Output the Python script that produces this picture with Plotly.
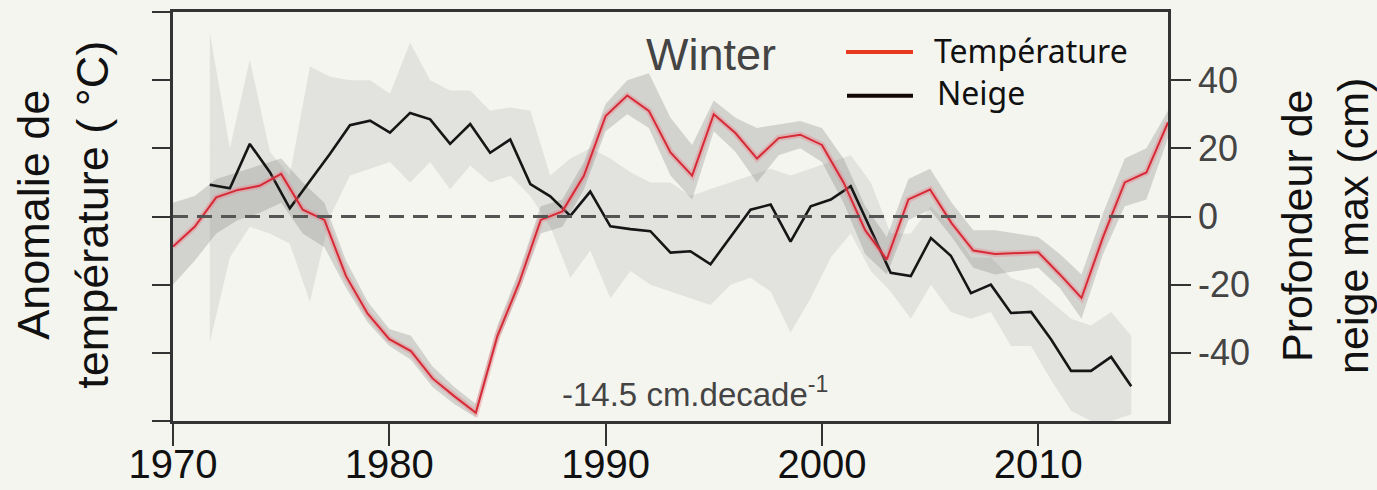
import plotly.graph_objects as go

# ---------------- data ----------------
temp_years = list(range(1970, 2017))
temp = [-8.8, -3.0, 5.6, 7.8, 9.0, 12.5, 2.0, -1.0, -17.5, -28.5,
        -36.0, -39.5, -47.5, -52.7, -57.6, -35.0, -19.5, -1.0, 1.5, 12.0,
        29.5, 35.5, 31.0, 18.8, 12.0, 30.0, 24.5, 17.0, 23.0, 24.0,
        21.0, 10.0, -4.0, -12.6, 5.0, 7.9, -2.0, -10.0, -11.0, -10.8,
        -10.5, -17.0, -23.9, -6.0, 10.0, 12.9, 27.6]
temp_hi = [4, 6, 11, 13, 15, 17, 10, 4, -13, -25,
           -33, -35, -44, -50, -55, -32, -16, 3, 5, 16,
           33, 40, 42, 29, 21, 34, 29, 26, 27, 28,
           26, 17, 3, -6, 11, 14, 4, -4, -4, -5,
           -6, -11, -17, 1, 17, 20, 31]
temp_lo = [-20, -13, -5, -1, 1, 4, -5, -9, -21, -31,
           -38, -42, -50, -55, -59, -37, -22, -5, -3, 8,
           25, 30, 26, 12, 5, 25, 19, 10, 18, 20,
           16, 4, -11, -17, -1, 2, -6, -15, -17, -16,
           -15, -21, -30, -11, 3, 5, 23]

snow_years = [1971.70, 1972.63, 1973.55, 1974.48, 1975.40, 1976.33, 1977.26, 1978.18, 1979.11, 1980.03,
              1980.96, 1981.89, 1982.81, 1983.74, 1984.66, 1985.59, 1986.52, 1987.44, 1988.37, 1989.29,
              1990.22, 1991.15, 1992.07, 1993.00, 1993.92, 1994.85, 1995.78, 1996.70, 1997.63, 1998.55,
              1999.48, 2000.41, 2001.33, 2002.26, 2003.18, 2004.11, 2005.04, 2005.96, 2006.89, 2007.81,
              2008.74, 2009.67, 2010.59, 2011.52, 2012.44, 2013.37, 2014.30]
snow = [9.3, 8.3, 21.3, 13.0, 2.4, 10.5, 18.4, 26.8, 28.1, 24.6,
        30.4, 28.5, 21.3, 27.1, 18.7, 22.6, 9.5, 5.9, 0.2, 7.3,
        -2.9, -3.7, -4.3, -10.6, -10.2, -14.0, -5.8, 2.0, 3.5, -7.4,
        3.0, 5.0, 8.9, -4.0, -16.5, -17.5, -6.3, -11.5, -22.5, -20.0,
        -28.3, -28.0, -36.0, -45.3, -45.3, -41.2, -49.8]
snow_hi = [54, 20, 46, 19, 12, 44, 41, 40, 40, 36,
           51, 40, 37, 37, 31, 32, 31, 12, 17, 20,
           17, 13, 10, 10, 6, 8, 10, 12, 14, 12,
           14, 16, 18, 10, -5, -5, 3, -3, -12, -12,
           -18, -20, -25, -30, -32, -28, -35]
snow_lo = [-37, -12, -3, -5, -8, -25, 0, 12, 14, 16,
           10, 16, 8, 15, 10, 12, 6, -3, -18, -10,
           -24, -16, -20, -22, -24, -26, -20, -18, -22, -34,
           -24, -12, -5, -16, -22, -30, -20, -28, -30, -28,
           -38, -38, -48, -57, -60, -60, -58]

x_ticks = [1970, 1980, 1990, 2000, 2010]
y_left_ticks = [-60, -40, -20, 0, 20, 40, 60]
y_right_ticks = [-40, -20, 0, 20, 40]
y_right_labels = ["-40", "-20", "0", "20", "40"]

BG = "#f5f5f0"
AX = "#333333"

fig = go.Figure()

# snow uncertainty band
fig.add_trace(go.Scatter(x=snow_years, y=snow_hi, mode="lines", line=dict(width=0),
                         showlegend=False, hoverinfo="skip"))
fig.add_trace(go.Scatter(x=snow_years, y=snow_lo, mode="lines", line=dict(width=0),
                         fill="tonexty", fillcolor="rgba(150,150,150,0.20)",
                         showlegend=False, hoverinfo="skip"))
# temperature uncertainty band
fig.add_trace(go.Scatter(x=temp_years, y=temp_hi, mode="lines", line=dict(width=0),
                         showlegend=False, hoverinfo="skip"))
fig.add_trace(go.Scatter(x=temp_years, y=temp_lo, mode="lines", line=dict(width=0),
                         fill="tonexty", fillcolor="rgba(130,130,130,0.30)",
                         showlegend=False, hoverinfo="skip"))

# snow line
fig.add_trace(go.Scatter(x=snow_years, y=snow, mode="lines", yaxis="y2",
                         line=dict(color="#161616", width=2.6), name="Neige", showlegend=False))
# temperature line with pink halo
fig.add_trace(go.Scatter(x=temp_years, y=temp, mode="lines", yaxis="y2",
                         line=dict(color="rgba(236,130,140,0.40)", width=6),
                         showlegend=False, hoverinfo="skip"))
fig.add_trace(go.Scatter(x=temp_years, y=temp, mode="lines", yaxis="y2",
                         line=dict(color="#d62a36", width=2), name="Température", showlegend=False))

fig.update_layout(
    width=1377, height=490,
    margin=dict(l=173, r=209, t=12, b=69, pad=0, autoexpand=False),
    paper_bgcolor=BG, plot_bgcolor=BG,
    showlegend=False,
    xaxis=dict(range=[1970, 2016], tickvals=x_ticks, ticks="outside", ticklen=22,
               tickwidth=2, tickcolor=AX, showline=True, linecolor=AX, linewidth=2.5,
               mirror=True, showgrid=False, zeroline=False, automargin=False,
               ticklabelstandoff=-16,
               tickfont=dict(family="Liberation Sans", size=40, color="#111")),
    yaxis=dict(range=[-60, 60], tickvals=y_left_ticks, showticklabels=False,
               ticks="outside", ticklen=18, tickwidth=2, tickcolor=AX, automargin=False,
               showline=True, linecolor=AX, linewidth=2.5, showgrid=False, zeroline=False),
    yaxis2=dict(range=[-60, 60], overlaying="y", side="right", tickvals=y_right_ticks,
                ticktext=y_right_labels, ticks="outside", ticklen=20, tickwidth=2, tickcolor=AX,
                showline=True, linecolor=AX, linewidth=2.5, showgrid=False, zeroline=False,
                automargin=False,
                tickfont=dict(family="Liberation Sans", size=36, color="#444")),
)

# zero dashed line
fig.add_shape(type="line", xref="paper", x0=0, x1=1, yref="y", y0=0, y1=0,
              line=dict(color="#555555", width=3, dash="15px,9px"), layer="above")

# legend drawn manually
fig.add_shape(type="line", xref="paper", yref="paper", x0=0.6764, x1=0.7437, y0=0.902, y1=0.902,
              line=dict(color="#e8391f", width=4))
fig.add_shape(type="line", xref="paper", yref="paper", x0=0.6774, x1=0.7437, y0=0.795, y1=0.795,
              line=dict(color="#140606", width=4))

ann_font = "Liberation Sans"
fig.add_annotation(text="Température", xref="paper", yref="paper", x=0.7628, y=0.907,
                   xanchor="left", yanchor="middle", showarrow=False,
                   font=dict(family="Noto Sans", size=32, color="#111"))
fig.add_annotation(text="Neige", xref="paper", yref="paper", x=0.7658, y=0.804,
                   xanchor="left", yanchor="middle", showarrow=False,
                   font=dict(family="Noto Sans", size=32, color="#111"))
fig.add_annotation(text="Winter", xref="paper", yref="paper", x=0.5407, y=0.897,
                   xanchor="center", yanchor="middle", showarrow=False,
                   font=dict(family=ann_font, size=45, color="#444"))
fig.add_annotation(text="-14.5 cm.decade<sup>-1</sup>", xref="paper", yref="paper",
                   x=0.389, y=0.071, xanchor="left", yanchor="middle", showarrow=False,
                   font=dict(family=ann_font, size=33, color="#444"))
# axis titles
fig.add_annotation(text="Anomalie de<br>température ( °C)", xref="paper", yref="paper",
                   x=-0.1106, y=0.504, xanchor="center", yanchor="middle", textangle=-90,
                   showarrow=False, font=dict(family=ann_font, size=45, color="#111"))
fig.add_annotation(text="Profondeur de<br>neige max (cm)", xref="paper", yref="paper",
                   x=1.1578, y=0.477, xanchor="center", yanchor="middle", textangle=-90,
                   showarrow=False, font=dict(family=ann_font, size=43, color="#111"))

fig.write_html("out.html")
